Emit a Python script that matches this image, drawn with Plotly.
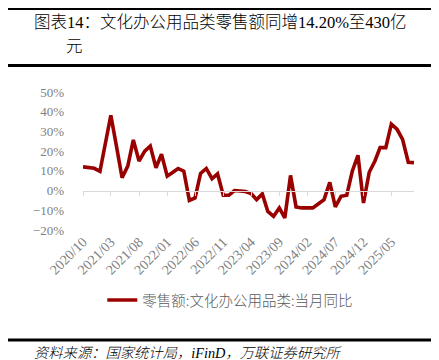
import pandas as pd
import plotly.graph_objects as go

# ---- data ----
months = pd.date_range("2020-10-01", periods=60, freq="MS")
yoy = [12.0, 11.6, 11.3, 9.8, 24.0, 38.2, 22.3, 6.5, 12.4, 25.7,
       15.0, 20.0, 22.6, 11.6, 18.4, 7.3, 9.3, 11.2, 9.8, -5.0,
       -3.7, 8.7, 11.2, 6.0, 8.5, -2.4, -2.4, 0.0, -0.2, -0.5,
       -1.5, -4.6, -1.7, -10.6, -13.1, -8.8, -13.9, 7.7, -8.3, -8.8,
       -8.8, -8.8, -6.7, -4.6, 4.2, -8.3, -2.9, -2.4, 9.8, 17.9,
       -6.3, 9.3, 15.0, 21.8, 21.8, 33.7, 31.1, 26.0, 14.4, 14.2]
series_name = "零售额:文化办公用品类:当月同比"
title_line1 = "图表14：文化办公用品类零售额同增14.20%至430亿"
title_line2 = "元"
source_text = "资料来源：国家统计局，iFinD，万联证券研究所"
y_ticks = [-20, -10, 0, 10, 20, 30, 40, 50]
y_ticktext = [("\u2212" if v < 0 else "") + f"{abs(v)}%" for v in y_ticks]

# ---- layout geometry ----
W, H = 439, 360
ML, MR, MT, MB = 75, 33, 84, 138
PW, PH = W - ML - MR, H - MT - MB


def px(x):
    return (x - ML) / PW


def py(y):
    return (H - MB - y) / PH


serif_cjk = "Liberation Serif, Noto Sans CJK SC"
cjk = "Noto Sans CJK SC, Liberation Serif"

fig = go.Figure()
fig.add_trace(go.Scatter(
    x=months, y=yoy, mode="lines", name=series_name,
    line=dict(color="#990000", width=3.6),
    showlegend=True,
))
# invisible companion trace so the zero-crossing axis (x2) is drawn
fig.add_trace(go.Scatter(
    x=months, y=yoy, mode="lines", xaxis="x2", showlegend=False,
    line=dict(color="rgba(0,0,0,0)", width=0), hoverinfo="skip",
))

ymin, ymax = y_ticks[0], y_ticks[-1]
fig.update_layout(
    width=W, height=H,
    margin=dict(l=ML, r=MR, t=MT, b=MB),
    paper_bgcolor="white", plot_bgcolor="white",
    xaxis=dict(
        type="date",
        range=[months[0], months[-1]],
        tick0=months[0], dtick="M5", tickformat="%Y/%m",
        tickangle=-45, showgrid=False, showline=False, zeroline=False,
        ticks="", tickfont=dict(family="Liberation Serif", size=14, color="#808080"),
    ),
    xaxis2=dict(
        type="date", overlaying="x", matches="x", anchor="free",
        position=(0 - ymin) / (ymax - ymin),
        tick0=months[0], dtick="M5",
        showline=True, linecolor="#d9d9d9", linewidth=1,
        ticks="outside", ticklen=4, tickcolor="#d9d9d9",
        showticklabels=False, showgrid=False, zeroline=False,
    ),
    yaxis=dict(
        range=[ymin, ymax], tickvals=y_ticks, ticktext=y_ticktext,
        showgrid=False, zeroline=False, showline=False,
        ticklabelstandoff=18,
        tickfont=dict(family="Liberation Serif", size=13, color="#808080"),
    ),
    legend=dict(
        orientation="h", x=0.445, xanchor="center", y=py(292), yanchor="middle",
        font=dict(family=cjk, size=14.5, color="#595959", weight=300),
        bgcolor="rgba(0,0,0,0)",
    ),
)

fig.add_annotation(xref="paper", yref="paper", x=px(24), y=py(14), xanchor="left",
                   yanchor="middle", text=title_line1, showarrow=False,
                   font=dict(family=serif_cjk, size=16.5, color="#000000", weight=300))
fig.add_annotation(xref="paper", yref="paper", x=px(56), y=py(38), xanchor="left",
                   yanchor="middle", text=title_line2, showarrow=False,
                   font=dict(family=serif_cjk, size=16.5, color="#000000", weight=300))
fig.add_annotation(xref="paper", yref="paper", x=px(24), y=py(345), xanchor="left",
                   yanchor="middle", text="<i>" + source_text + "</i>", showarrow=False,
                   font=dict(family=serif_cjk, size=14.3, color="#000000", weight=300))

# decorative rules
for yy, wdt in [(1, 2), (57.5, 3), (332, 3)]:
    fig.add_shape(type="line", xref="paper", yref="paper",
                  x0=px(0), x1=px(W), y0=py(yy), y1=py(yy),
                  line=dict(color="#000000", width=wdt))

fig.write_html("out.html")
